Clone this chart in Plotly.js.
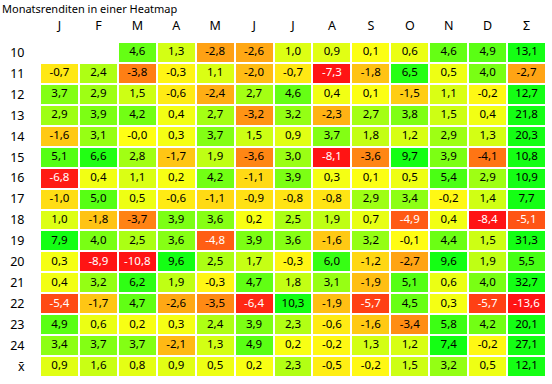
<!DOCTYPE html>
<html><head><meta charset="utf-8">
<script src="https://cdn.plot.ly/plotly-3.0.1.min.js"></script>
<style>html,body{margin:0;padding:0;background:#fff}#c{width:552px;height:384px}</style>
</head><body><div id="c"></div>
<script>
const columnLabels = ["J","F","M","A","M","J","J","A","S","O","N","D","Σ"];
const rowLabels = ["10","11","12","13","14","15","16","17","18","19","20","21","22","23","24","x̄"];
const r10 = [null,null,4.6,1.3,-2.8,-2.6,1.0,0.9,0.1,0.6,4.6,4.9,13.1];
const r11 = [-0.7,2.4,-3.8,-0.3,1.1,-2.0,-0.7,-7.3,-1.8,6.5,0.5,4.0,-2.7];
const r12 = [3.7,2.9,1.5,-0.6,-2.4,2.7,4.6,0.4,0.1,-1.5,1.1,-0.2,12.7];
const r13 = [2.9,3.9,4.2,0.4,2.7,-3.2,3.2,-2.3,2.7,3.8,1.5,0.4,21.8];
const r14 = [-1.6,3.1,-0.0,0.3,3.7,1.5,0.9,3.7,1.8,1.2,2.9,1.3,20.3];
const r15 = [5.1,6.6,2.8,-1.7,1.9,-3.6,3.0,-8.1,-3.6,9.7,3.9,-4.1,10.8];
const r16 = [-6.8,0.4,1.1,0.2,4.2,-1.1,3.9,0.3,0.1,0.5,5.4,2.9,10.9];
const r17 = [-1.0,5.0,0.5,-0.6,-1.1,-0.9,-0.8,-0.8,2.9,3.4,-0.2,1.4,7.7];
const r18 = [1.0,-1.8,-3.7,3.9,3.6,0.2,2.5,1.9,0.7,-4.9,0.4,-8.4,-5.1];
const r19 = [7.9,4.0,2.5,3.6,-4.8,3.9,3.6,-1.6,3.2,-0.1,4.4,1.5,31.3];
const r20 = [0.3,-8.9,-10.8,9.6,2.5,1.7,-0.3,6.0,-1.2,-2.7,9.6,1.9,5.5];
const r21 = [0.4,3.2,6.2,1.9,-0.3,4.7,1.8,3.1,-1.9,5.1,0.6,4.0,32.7];
const r22 = [-5.4,-1.7,4.7,-2.6,-3.5,-6.4,10.3,-1.9,-5.7,4.5,0.3,-5.7,-13.6];
const r23 = [4.9,0.6,0.2,0.3,2.4,3.9,2.3,-0.6,-1.6,-3.4,5.8,4.2,20.1];
const r24 = [3.4,3.7,3.7,-2.1,1.3,4.9,0.2,-0.2,1.3,1.2,7.4,-0.2,27.1];
const rMean = [0.9,1.6,0.8,0.9,0.5,0.2,2.3,-0.5,-0.2,1.5,3.2,0.5,12.1];
const z = [r10,r11,r12,r13,r14,r15,r16,r17,r18,r19,r20,r21,r22,r23,r24,rMean];

const xIdx = columnLabels.map((_, i) => i);
const yIdx = rowLabels.map((_, i) => i);

function fmt(v){
  let s = Math.abs(v).toFixed(1).replace('.', ',');
  return (v < 0 || Object.is(v, -0)) ? '-' + s : s;
}
const tx = [], ty = [], tt = [], tc = [];
z.forEach((row, j) => row.forEach((v, i) => {
  if (v === null) return;
  tx.push(i); ty.push(j); tt.push(fmt(v));
  tc.push(v < -4.5 ? '#ffffff' : '#000000');
}));

const heat = {
  type: 'heatmap', x: xIdx, y: yIdx, z: z,
  zmin: -7, zmax: 7,
  colorscale: [[0, 'rgb(255,20,20)'], [0.5, 'rgb(255,255,20)'], [1, 'rgb(20,255,20)']],
  showscale: false, xgap: 2, ygap: 2, hoverinfo: 'skip'
};
const labels = {
  type: 'scatter', mode: 'text', x: tx, y: ty, text: tt,
  textfont: {family: 'Noto Sans, sans-serif', size: 11.5, color: tc},
  hoverinfo: 'skip', showlegend: false
};
const layout = {
  width: 552, height: 384,
  margin: {l: 40, r: 6, t: 42, b: 7, pad: 0},
  paper_bgcolor: '#fff', plot_bgcolor: '#fff',
  title: {text: 'Monatsrenditen in einer Heatmap', x: 2/552, xref: 'container', xanchor: 'left',
          y: 1 - 9/384, yref: 'container', yanchor: 'middle',
          font: {family: 'Noto Sans, sans-serif', size: 11, color: '#000'}, pad: {t: 0, l: 0, r: 0, b: 0}},
  xaxis: {side: 'top', tickvals: xIdx, ticktext: columnLabels, range: [-0.5, 12.5],
          showgrid: false, zeroline: false, showline: false, ticks: 'outside', ticklen: 6, tickcolor: 'rgba(0,0,0,0)',
          tickfont: {family: 'Noto Sans, sans-serif', size: 12.5, color: '#000'}, fixedrange: true},
  yaxis: {tickvals: yIdx, ticktext: rowLabels, range: [15.5, -0.5],
          showgrid: false, zeroline: false, showline: false, ticks: 'outside', ticklen: 12, tickcolor: 'rgba(0,0,0,0)',
          tickfont: {family: 'Noto Sans, sans-serif', size: 12.5, color: '#000'}, fixedrange: true},
  showlegend: false
};
Plotly.newPlot('c', [heat, labels], layout, {displayModeBar: false, staticPlot: true});
</script></body></html>
